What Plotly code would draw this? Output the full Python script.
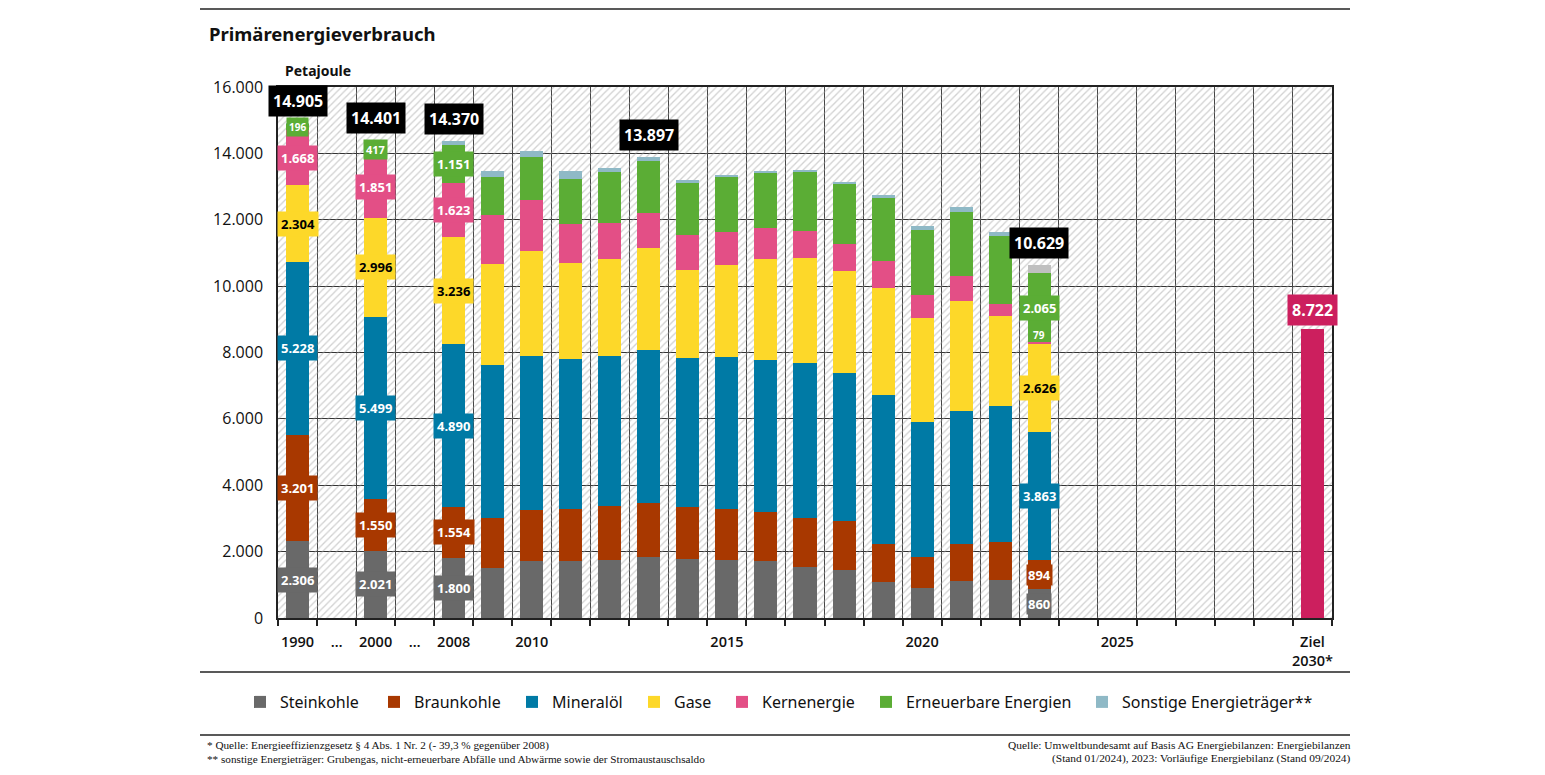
import numpy as np
import plotly.graph_objects as go

# ---------------- data ----------------
categories = ["1990", "gap1", "2000", "gap2"] + [str(y) for y in range(2008, 2030)] + ["Ziel 2030*"]
tick_labels = ["1990", "…", "2000", "…", "2008", "", "2010", "", "", "", "", "2015", "", "", "", "",
               "2020", "", "", "", "", "2025", "", "", "", "", "Ziel<br>2030*"]

data_years = ["1990", "2000"] + [str(y) for y in range(2008, 2024)]

steinkohle = [2306, 2021, 1800, 1500, 1730, 1730, 1750, 1840, 1770, 1750, 1720, 1530, 1440, 1090, 900, 1100, 1140, 860]
braunkohle = [3201, 1550, 1554, 1500, 1510, 1550, 1630, 1630, 1560, 1540, 1480, 1490, 1470, 1140, 950, 1120, 1140, 894]
mineraloel = [5228, 5499, 4890, 4630, 4650, 4510, 4510, 4610, 4490, 4560, 4570, 4660, 4460, 4500, 4050, 4030, 4100, 3863]
gase       = [2304, 2996, 3236, 3040, 3180, 2920, 2940, 3070, 2670, 2780, 3050, 3160, 3090, 3200, 3130, 3290, 2710, 2626]
kernenergie = [1668, 1851, 1623, 1480, 1530, 1170, 1080, 1060, 1060, 1000, 920, 830, 820, 820, 700, 760, 380, 79]
erneuerbare = [196, 417, 1151, 1130, 1290, 1360, 1520, 1550, 1550, 1670, 1670, 1770, 1820, 1910, 1950, 1940, 2030, 2065]
sonstige    = [2, 67, 116, 180, 180, 220, 140, 137, 90, 40, 50, 40, 40, 100, 130, 140, 130, 242]

ziel_category = "Ziel 2030*"
ziel_value = 8722

series_names = ["Steinkohle", "Braunkohle", "Mineralöl", "Gase", "Kernenergie",
                "Erneuerbare Energien", "Sonstige Energieträger**"]
series_values = [steinkohle, braunkohle, mineraloel, gase, kernenergie, erneuerbare, sonstige]
series_colors = ["#696969", "#a83800", "#007aa5", "#fdd829", "#e34f86", "#5bad35", "#8fb9c6"]
label_text_colors = ["white", "white", "white", "black", "white", "white", "white"]

labelled_years = ["1990", "2000", "2008", "2023"]
total_label_years = ["1990", "2000", "2008", "2013", "2023"]

FONT = "Noto Sans"
SERIF = "Liberation Serif"

# ---------------- geometry helpers (paper coordinates) ----------------
L, R, T, B = 278, 1332, 87, 618
W, H = 1545, 775
legend_text_x = [279, 413, 551, 673, 761, 905, 1121]   # left edge of each legend entry's text (px)
LEGEND_Y = 702


def px_x(x):
    return (x - L) / (R - L)


def px_y(y):
    return (B - y) / (B - T)


def de(v):
    return f"{v:,}".replace(",", ".")


def cat_idx(c):
    return categories.index(c)


fig = go.Figure()

# hatched plot background (on hidden main x axis, below the overlaying category axis)
fig.add_trace(go.Bar(
    x=[0.5], y=[16000], width=[1], xaxis="x", yaxis="y",
    marker=dict(color="rgba(0,0,0,0)", line=dict(width=0),
                pattern=dict(shape="/", fgcolor="#a4a4a4", bgcolor="rgba(0,0,0,0)",
                             size=5, solidity=0.26, fillmode="overlay")),
    showlegend=False, hoverinfo="skip"))

legend_layouts = {}
for k, (name, vals, col) in enumerate(zip(series_names, series_values, series_colors)):
    colors = col
    if name.startswith("Sonstige"):
        colors = [("#c0c0c0" if y == "2023" else col) for y in data_years]
    lid = "legend" if k == 0 else f"legend{k + 1}"
    fig.add_trace(go.Bar(
        x=data_years, y=vals, name=name, xaxis="x2", yaxis="y", legend=lid,
        marker=dict(color=colors, line=dict(width=0)),
    ))
    legend_layouts[lid] = dict(
        orientation="h", xref="container", yref="container",
        x=(legend_text_x[k] - 39) / W, xanchor="left",
        y=1 - LEGEND_Y / H, yanchor="middle",
        font=dict(family=FONT, size=16, color="#111"),
        bgcolor="rgba(0,0,0,0)", borderwidth=0, itemwidth=30)

fig.add_trace(go.Bar(x=[ziel_category], y=[ziel_value], xaxis="x2", yaxis="y",
                     marker=dict(color="#cc1f5e", line=dict(width=0)), showlegend=False))

annotations = []

# segment labels
arr = np.array(series_values, dtype=float)
cum = np.cumsum(arr, axis=0)
for yr in labelled_years:
    j = data_years.index(yr)
    xi = cat_idx(yr)
    for i in range(6):
        v = int(arr[i, j])
        mid = cum[i, j] - arr[i, j] / 2
        small = v < 500
        if yr == "2023" and i == 4:
            annotations.append(dict(x=xi, y=cum[i, j], xref="x2", yref="y", text=de(v), showarrow=False,
                                    yshift=7, font=dict(family=FONT, size=10, color="white", weight="bold")))
            continue
        pad = 1 if (yr == "2023" and i < 2) else (2 if small else 3)
        annotations.append(dict(
            x=xi, y=mid, xref="x2", yref="y", text=de(v), showarrow=False,
            bgcolor=series_colors[i], borderpad=pad,
            font=dict(family=FONT, size=(10 if v < 300 else (11 if small else 13)),
                      color=label_text_colors[i], weight="bold")))

# total labels
totals = cum[-1]
for yr in total_label_years:
    j = data_years.index(yr)
    annotations.append(dict(
        x=cat_idx(yr), y=totals[j], xref="x2", yref="y", text=de(int(round(totals[j]))), showarrow=False,
        yshift=22, bgcolor="black", borderpad=4,
        font=dict(family=FONT, size=16, color="white", weight="bold")))
annotations.append(dict(
    x=cat_idx(ziel_category), y=ziel_value, xref="x2", yref="y", text=de(ziel_value), showarrow=False,
    yshift=19, bgcolor="#cc1f5e", borderpad=4,
    font=dict(family=FONT, size=16, color="white", weight="bold")))

# titles & footnotes
annotations += [
    dict(x=px_x(207), y=px_y(33), xref="paper", yref="paper", xanchor="left", yanchor="middle",
         text="<b>Primärenergieverbrauch</b>", showarrow=False,
         font=dict(family=FONT, size=18.5, color="#111")),
    dict(x=px_x(283), y=px_y(70), xref="paper", yref="paper", xanchor="left", yanchor="middle",
         text="<b>Petajoule</b>", showarrow=False, font=dict(family=FONT, size=14, color="#111")),
    dict(x=px_x(205), y=px_y(745), xref="paper", yref="paper", xanchor="left", yanchor="middle",
         text="* Quelle: Energieeffizienzgesetz § 4 Abs. 1 Nr. 2 (- 39,3 % gegenüber 2008)", showarrow=False,
         font=dict(family=SERIF, size=11.2, color="#111")),
    dict(x=px_x(205), y=px_y(759), xref="paper", yref="paper", xanchor="left", yanchor="middle",
         text="** sonstige Energieträger: Grubengas, nicht-erneuerbare Abfälle und Abwärme sowie der Stromaustauschsaldo",
         showarrow=False, font=dict(family=SERIF, size=11.2, color="#111")),
    dict(x=px_x(1353), y=px_y(745), xref="paper", yref="paper", xanchor="right", yanchor="middle",
         text="Quelle: Umweltbundesamt auf Basis AG Energiebilanzen: Energiebilanzen", showarrow=False,
         font=dict(family=SERIF, size=11.4, color="#111")),
    dict(x=px_x(1353), y=px_y(759), xref="paper", yref="paper", xanchor="right", yanchor="middle",
         text="(Stand 01/2024), 2023: Vorläufige Energiebilanz (Stand 09/2024)", showarrow=False,
         font=dict(family=SERIF, size=11.4, color="#111")),
]

shapes = []
for yy in (9, 672, 735):
    shapes.append(dict(type="line", xref="paper", yref="paper", x0=px_x(200), x1=px_x(1350),
                       y0=px_y(yy), y1=px_y(yy), line=dict(color="#222", width=1.5)))

fig.update_layout(
    width=W, height=H,
    margin=dict(l=L, r=W - R, t=T, b=H - B, pad=0, autoexpand=False),
    paper_bgcolor="white", plot_bgcolor="white",
    barmode="stack", bargap=0.41,
    separators=",.",
    font=dict(family=FONT, size=14, color="#111"),
    showlegend=True,
    xaxis=dict(range=[0, 1], visible=False, fixedrange=True),
    xaxis2=dict(overlaying="x", anchor="y", type="category", categoryorder="array",
                categoryarray=categories, range=[-0.5, len(categories) - 0.5],
                tickmode="array", tickvals=categories, ticktext=tick_labels,
                tickson="boundaries", showgrid=True, gridcolor="#444444", gridwidth=1,
                ticks="outside", ticklen=6, tickcolor="#222", tickwidth=1.5, tickangle=0,
                showline=True, linecolor="#222", linewidth=1.5, mirror=True,
                ticklabelstandoff=10,
                tickfont=dict(family="Open Sans", size=14.5, color="#111", weight=600)),
    yaxis=dict(range=[0, 16000], dtick=2000, tickformat=",d", showgrid=True,
               gridcolor="#333333", gridwidth=1.2, zeroline=False,
               showline=True, linecolor="#222", linewidth=1.5, mirror=True,
               ticks="", ticklabelstandoff=10,
               tickfont=dict(family="Open Sans", size=16, color="#111")),
    annotations=annotations, shapes=shapes,
    **legend_layouts,
)

fig.write_html("out.html", post_script="document.body.style.margin='0';",
               config={"displayModeBar": False})
